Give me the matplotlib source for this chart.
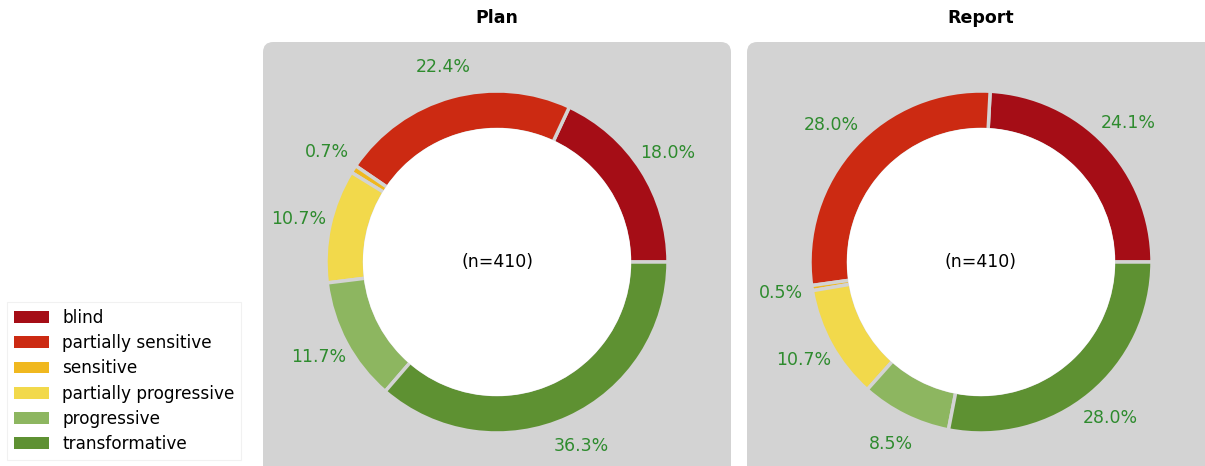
import matplotlib
matplotlib.use("Agg")
import matplotlib.pyplot as plt
from matplotlib.patches import FancyBboxPatch, Patch, Circle

plt.rcParams["font.family"] = ["DejaVu Sans"]

# Response counts per category (n=410 in each document type)
categories = ["blind", "partially sensitive", "sensitive",
              "partially progressive", "progressive", "transformative"]
plan_counts = [74, 92, 3, 44, 48, 149]
report_counts = [99, 115, 2, 44, 35, 115]
panel_titles = ["Plan", "Report"]

colors = ["#a50d16", "#cc2a12", "#f0b81f", "#f2d94b", "#8db660", "#5e9132"]
panel_grey = "#d3d3d3"
label_green = "#2e8b2e"

W, H = 1205, 466
fig = plt.figure(figsize=(W / 100, H / 100), dpi=100)
fig.patch.set_facecolor("white")

# panel rectangles in pixel units: left, top, width, height
panels = [(263, 42, 468, 440), (747, 42, 468, 440)]
ring_width = 0.225
fs = 12.5

for (px, py, pw, ph), title, counts in zip(panels, panel_titles,
                                          [plan_counts, report_counts]):
    ax = fig.add_axes([px / W, 1 - (py + ph) / H, pw / W, ph / H])
    ax.patch.set_visible(False)
    bg = FancyBboxPatch((0, 0), 1, 1, boxstyle="round,pad=0,rounding_size=0.022",
                        transform=ax.transAxes, facecolor=panel_grey,
                        edgecolor="none", zorder=0, clip_on=False,
                        mutation_aspect=pw / ph)
    ax.add_patch(bg)
    total = sum(counts)
    wedges, texts, autotexts = ax.pie(
        counts, colors=colors, startangle=0, counterclock=True,
        autopct=lambda p: f"{p:.1f}%", pctdistance=1.185,
        wedgeprops=dict(width=ring_width, edgecolor=panel_grey, linewidth=2.5),
        radius=1.0, textprops=dict(fontsize=fs, color=label_green))
    # white centre of the donut
    ax.add_patch(Circle((0, 0), 1 - ring_width + 0.009, facecolor="white",
                        edgecolor="none", zorder=3))
    ax.text(0, 0, f"(n={total})", ha="center", va="center", fontsize=fs,
            color="black", zorder=4)
    ax.set_aspect("equal")
    sx = pw / 171 / 2
    sy = ph / 171 / 2
    ax.set_xlim(-sx, sx)
    ax.set_ylim(-sy, sy)
    ax.axis("off")
    fig.text((px + pw / 2) / W, 1 - 18 / H, title, ha="center", va="center",
             fontsize=fs, fontweight="bold")

handles = [Patch(facecolor=c, edgecolor="none") for c in colors]
leg = fig.legend(handles, categories, loc="lower left",
                 bbox_to_anchor=(7 / W, 6 / H), borderaxespad=0,
                 fontsize=12.2, handlelength=2.05, labelspacing=0.43,
                 frameon=True, fancybox=False)
leg.get_frame().set_edgecolor("#eeeeee")
leg.get_frame().set_linewidth(0.8)

fig.savefig("out.png", dpi=100)
